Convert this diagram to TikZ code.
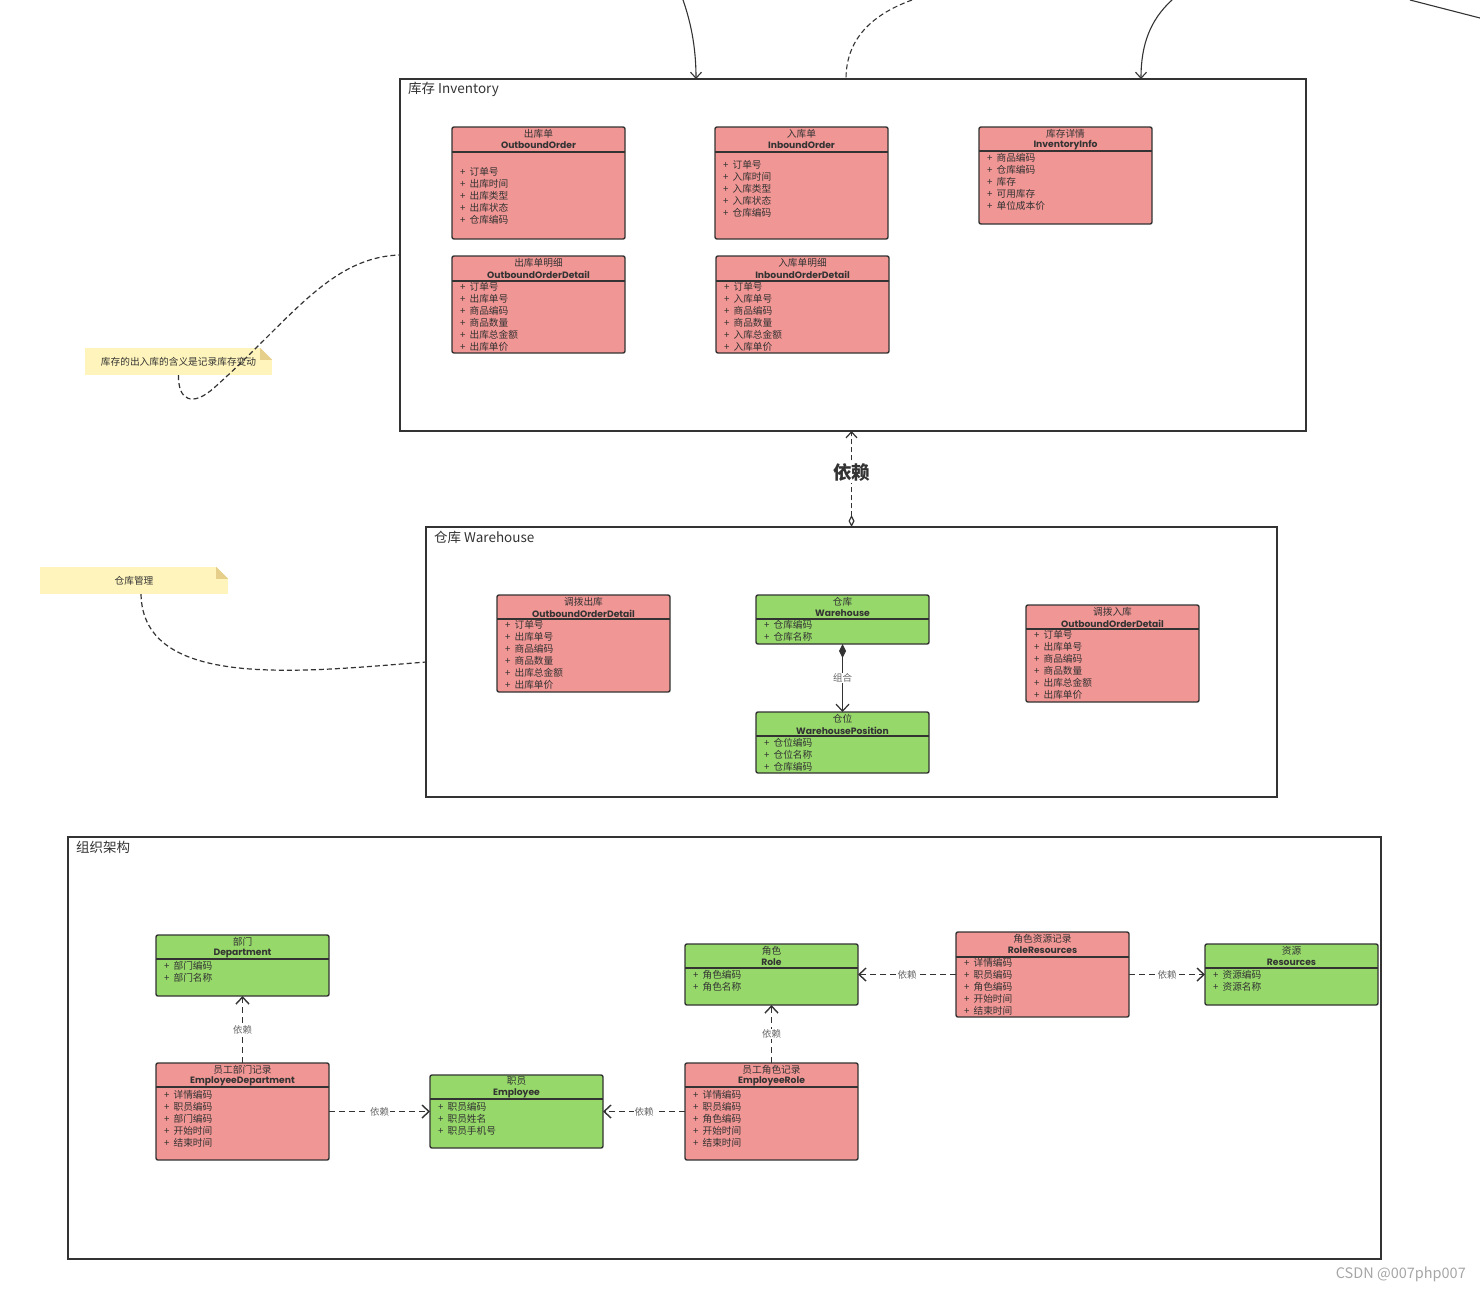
\documentclass[tikz,border=0pt]{standalone}
\usepackage{fontspec}
\setmainfont{Noto Sans CJK SC}
\newfontfamily\clsfont{Poppins}
\usepackage{tikz}
\usetikzlibrary{calc}
\usetikzlibrary{arrows.meta}
\usepackage{xcolor}

\definecolor{linegray}{HTML}{333333}
\definecolor{textgray}{HTML}{333333}
\definecolor{labelgray}{HTML}{666666}
\definecolor{pinkcls}{HTML}{F09694}
\definecolor{greencls}{HTML}{96D96A}
\definecolor{noteyellow}{HTML}{FFF5BC}
\definecolor{notefold}{HTML}{E5CF8A}

\tikzset{
  pkg/.style={draw=linegray, line width=1.5, inner sep=0, outer sep=0, anchor=north west},
  pkgtitle/.style={anchor=west, inner sep=0, text=textgray, font=\fontsize{13.5}{14}\selectfont},
  classbox/.style={draw=linegray, line width=1.4, rounded corners=2, inner sep=0, outer sep=0, minimum width=173},
  boxline/.style={draw=linegray, line width=1.4},
  clscn/.style={inner sep=0, text=textgray, font=\fontsize{9.7}{10}\selectfont},
  clsen/.style={inner sep=0, text=textgray, font=\clsfont\bfseries\fontsize{9.2}{10}\selectfont},
  clsattr/.style={anchor=west, inner sep=0, text=textgray, font=\fontsize{9.7}{10}\selectfont},
  dep/.style={draw=linegray, line width=1.4, dash pattern=on 6pt off 4pt, -{Straight Barb[length=7pt,width=13pt]}},
  deplabel/.style={fill=white, inner sep=1, text=labelgray, font=\fontsize{9.5}{10}\selectfont},
  note/.style={fill=noteyellow, inner sep=0, text=textgray, minimum height=27, font=\fontsize{9.7}{10}\selectfont},
  notelink/.style={draw=linegray, line width=1.2, dash pattern=on 5pt off 3pt},
  extlink/.style={draw=linegray, line width=1.1},
}

% class box: name, colour, top left, height, divider, first attribute, chinese, english, attributes
\newcommand{\umlclass}[9]{%
  \node[classbox, fill=#2, minimum height=#4, anchor=north west] (#1) at (#3) {};
  \draw[boxline] ($(#1.north west)+(0,#5)$) -- ($(#1.north east)+(0,#5)$);
  \node[clscn] at ($(#1.north)+(0,6.5)$) {#7};
  \node[clsen] at ($(#1.north)+(0,18.5)$) {#8};
  \foreach \attr [count=\k from 0] in {#9}
    \node[clsattr] at ($(#1.north west)+(8,#6+12*\k)$) {+\hspace{4pt}\attr};
}

% folded corner of a note
\newcommand{\notecorner}[1]{%
  \fill[white] ($(#1.north east)+(-12,0)$) -- (#1.north east) -- ($(#1.north east)+(0,12)$) -- cycle;
  \fill[notefold] ($(#1.north east)+(-12,0)$) -- ($(#1.north east)+(-12,12)$) -- ($(#1.north east)+(0,12)$) -- cycle;
}

\begin{document}
\begin{tikzpicture}[x=1pt,y=-1pt]
  \useasboundingbox (0,0) rectangle (1480,1291);

  % packages
  \node[pkg, minimum width=906, minimum height=352] (inventory) at (400,79) {};
  \node[pkgtitle] at ($(inventory.north west)+(8,10)$) {库存 Inventory};
  \node[pkg, minimum width=851, minimum height=270] (warehouse) at (426,527) {};
  \node[pkgtitle] at ($(warehouse.north west)+(8,10)$) {仓库 Warehouse};
  \node[pkg, minimum width=1313, minimum height=422] (org) at (68,837) {};
  \node[pkgtitle] at ($(org.north west)+(8,10)$) {组织架构};

  % inventory
  \umlclass{outorder}{pinkcls}{452,127}{112}{25}{45}{出库单}{OutboundOrder}{订单号,出库时间,出库类型,出库状态,仓库编码}
  \umlclass{inorder}{pinkcls}{715,127}{112}{25}{38}{入库单}{InboundOrder}{订单号,入库时间,入库类型,入库状态,仓库编码}
  \umlclass{invinfo}{pinkcls}{979,127}{97}{24}{31}{库存详情}{InventoryInfo}{商品编码,仓库编码,库存,可用库存,单位成本价}
  \umlclass{outdetail}{pinkcls}{452,256}{97}{25}{31}{出库单明细}{OutboundOrderDetail}{订单号,出库单号,商品编码,商品数量,出库总金额,出库单价}
  \umlclass{indetail}{pinkcls}{716,256}{97}{25}{31}{入库单明细}{InboundOrderDetail}{订单号,入库单号,商品编码,商品数量,入库总金额,入库单价}

  % warehouse
  \umlclass{transout}{pinkcls}{497,595}{97}{24}{30}{调拨出库}{OutboundOrderDetail}{订单号,出库单号,商品编码,商品数量,出库总金额,出库单价}
  \umlclass{whbox}{greencls}{756,595}{49}{24}{30}{仓库}{Warehouse}{仓库编码,仓库名称}
  \umlclass{transin}{pinkcls}{1026,605}{97}{24}{30}{调拨入库}{OutboundOrderDetail}{订单号,出库单号,商品编码,商品数量,出库总金额,出库单价}
  \umlclass{whpos}{greencls}{756,712}{61}{24}{31}{仓位}{WarehousePosition}{仓位编码,仓位名称,仓库编码}
  \draw[draw=linegray, line width=1.2, {Diamond[length=14pt,width=7pt]}-{Straight Barb[length=7pt,width=13pt]}]
    (whbox.south) -- (whpos.north) node[midway, deplabel] {组合};

  % organisation
  \umlclass{dept}{greencls}{156,935}{61}{24}{31}{部门}{Department}{部门编码,部门名称}
  \umlclass{empdept}{pinkcls}{156,1063}{97}{24}{32}{员工部门记录}{EmployeeDepartment}{详情编码,职员编码,部门编码,开始时间,结束时间}
  \umlclass{emp}{greencls}{430,1075}{73}{24}{32}{职员}{Employee}{职员编码,职员姓名,职员手机号}
  \umlclass{role}{greencls}{685,944}{61}{24}{31}{角色}{Role}{角色编码,角色名称}
  \umlclass{emprole}{pinkcls}{685,1063}{97}{24}{32}{员工角色记录}{EmployeeRole}{详情编码,职员编码,角色编码,开始时间,结束时间}
  \umlclass{roleres}{pinkcls}{956,932}{85}{25}{31}{角色资源记录}{RoleResources}{详情编码,职员编码,角色编码,开始时间,结束时间}
  \umlclass{res}{greencls}{1205,944}{61}{24}{31}{资源}{Resources}{资源编码,资源名称}

  \draw[dep] (empdept) -- (dept) node[midway, deplabel] {依赖};
  \draw[dep] (empdept) -- (emp) node[midway, deplabel] {依赖};
  \draw[dep] (emprole) -- (emp) node[midway, deplabel] {依赖};
  \draw[dep] (emprole) -- (role) node[midway, deplabel] {依赖};
  \draw[dep] (roleres) -- (role) node[midway, deplabel] {依赖};
  \draw[dep] (roleres) -- (res) node[midway, deplabel] {依赖};

  % warehouse depends on inventory
  \draw[draw=linegray, line width=1.2, dash pattern=on 5pt off 3pt,
        {Diamond[open,length=12pt,width=6pt]}-{Straight Barb[length=6pt,width=11pt]}]
    (warehouse.north) -- (warehouse.north |- inventory.south)
    node[pos=0.57, fill=white, inner sep=2, text=textgray, font=\bfseries\fontsize{18.5}{19}\selectfont] {依赖};

  % notes
  \node[note, minimum width=187] (note1) at (178.5,361.5) {库存的出入库的含义是记录库存变动};
  \notecorner{note1}
  \node[note, minimum width=188] (note2) at (134,580.5) {仓库管理};
  \notecorner{note2}
  \draw[notelink] (note1.south) .. controls (178,400) and (192,408) .. (215,387)
    .. controls (290,320) and (330,257) .. (inventory.west);
  \draw[notelink] ($(note2.south)+(7,0)$) .. controls (143,690) and (300,672) .. (warehouse.west);

  % links coming from outside the view
  \coordinate (ext1) at (683,0);
  \coordinate (ext2) at (912,0);
  \coordinate (ext3) at (1172,0);
  \coordinate (ext4) at (1410,0);
  \coordinate (ext5) at (1480,18);
  \draw[extlink, -{Straight Barb[length=6pt,width=11pt]}] (ext1) .. controls (690,20) and (696,45) .. ($(inventory.north west)+(296,0)$);
  \draw[extlink, dash pattern=on 5pt off 3pt] (ext2) .. controls (868,16) and (846,42) .. ($(inventory.north west)+(446,0)$);
  \draw[extlink, -{Straight Barb[length=6pt,width=11pt]}] (ext3) .. controls (1150,20) and (1141,45) .. ($(inventory.north west)+(741,0)$);
  \draw[extlink] (ext4) -- (ext5);

  \node[anchor=east, inner sep=0, text=gray!70, font=\fontsize{14.5}{15}\selectfont] (mark) at (1466,1274) {CSDN @007php007};
\end{tikzpicture}
\end{document}
